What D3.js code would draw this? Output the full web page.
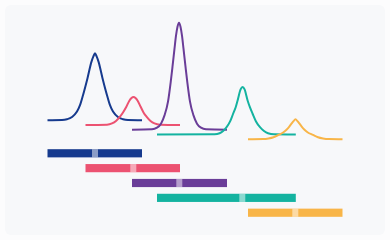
<!DOCTYPE html>
<html lang="en">
<head>
    <meta charset="UTF-8">
    <title>Chromatogram peaks and elution windows</title>
    <script src="https://d3js.org/d3.v7.min.js"></script>
    <style>
        body {
            margin: 0;
            background-color: #fcfcfd;
        }

        svg {
            display: block;
        }

        .trace {
            fill: none;
            stroke-width: 2;
            stroke-linejoin: round;
            stroke-linecap: butt;
        }

        .marker {
            fill: #ffffff;
            fill-opacity: 0.5;
        }
    </style>
</head>
<body>
    <svg width="390" height="240"></svg>

    <script>
        // compounds, in elution order
        const compounds = ['A', 'B', 'C', 'D', 'E'];
        const colors = ['#163a8e', '#ec5271', '#6a3d98', '#14b3a0', '#f8b548'];

        // elution window of each compound (min)
        const windowStart = [0.25, 4.05, 8.7, 11.2, 20.3];
        const windowEnd = [9.7, 13.5, 18.2, 25.08, 29.75];

        // retention time of each peak (min)
        const apex = [5.0, 8.83, 13.43, 19.73, 25.03];

        // vertical offset of each trace (signal units)
        const offsets = [19, 14.25, 9.5, 4.75, 0];

        // traces as [time, signal]
        const traceA = [[0.25, 0], [1.7, 0.2], [2.2, 1], [2.7, 3.2], [3.2, 8.6], [3.5, 15], [3.8, 25], [4.25, 42],
            [4.65, 58.6], [4.85, 64], [5.0, 67], [5.15, 64], [5.35, 58.6], [5.75, 42], [6.2, 25], [6.5, 15],
            [6.8, 8.6], [7.3, 3.2], [7.8, 1], [8.3, 0.2], [9.7, 0]];
        const traceB = [[4.05, 0], [6.2, 0.3], [6.7, 1.5], [7.1, 4], [7.5, 8.3], [7.8, 12.5], [8.15, 18.5],
            [8.45, 24.5], [8.65, 27], [8.85, 28], [9.05, 27], [9.25, 24.5], [9.55, 18.5], [9.85, 12.5],
            [10.15, 8.3], [10.55, 4], [10.95, 1.5], [11.5, 0.3], [13.5, 0]];
        const traceC = [[8.7, 0], [10.7, 0.4], [11.2, 2], [11.6, 6], [11.95, 14.3], [12.3, 28], [12.57, 47.6],
            [12.75, 63], [12.95, 81], [13.1, 94], [13.25, 103], [13.4, 107], [13.55, 103], [13.7, 94],
            [13.85, 81], [14.05, 63], [14.23, 47.6], [14.5, 28], [14.85, 14.3], [15.2, 6], [15.6, 2],
            [16.1, 0.4], [18.2, 0]];
        const traceD = [[11.2, 0], [16.96, 0.2], [17.46, 1.2], [17.81, 3.5], [18.16, 7.3], [18.51, 13],
            [18.81, 20.7], [19.06, 27], [19.26, 34], [19.56, 45], [19.76, 47.5], [19.96, 45], [20.26, 34],
            [20.5, 27], [20.76, 20.7], [21.1, 13], [21.5, 7.3], [21.9, 3.5], [22.3, 1.2], [22.9, 0.2],
            [25.08, 0]];
        const traceE = [[20.3, 0], [21.85, 0.2], [22.35, 0.8], [22.85, 2], [23.35, 4.3], [23.85, 7],
            [24.15, 9.5], [24.43, 12.6], [24.65, 15.5], [24.85, 18], [25.05, 20], [25.25, 18], [25.45, 15.5],
            [25.67, 12.6], [25.95, 9.5], [26.25, 7], [26.8, 4.3], [27.3, 2], [27.8, 0.8], [28.4, 0.2],
            [29.75, 0]];
        const traces = [traceA, traceB, traceC, traceD, traceE];

        const svg = d3.select('svg');
        const width = +svg.attr('width');
        const height = +svg.attr('height');

        // background card
        svg.append('rect')
            .attr('x', 5)
            .attr('y', 5)
            .attr('width', width - 10)
            .attr('height', height - 10)
            .attr('rx', 6)
            .attr('fill', '#f7f8fa');

        const x = d3.scaleLinear()
            .domain([0, 30])
            .range([45, 345]);

        const y = d3.scaleLinear()
            .domain([0, 120])
            .range([139.2, 19.2]);

        const band = d3.scaleBand()
            .domain(compounds)
            .range([149.2, 216.8])
            .paddingInner(0.45)
            .paddingOuter(0);

        const line = d3.line()
            .x(d => x(d[0]))
            .y(d => y(d[1]))
            .curve(d3.curveMonotoneX);

        // peaks
        svg.append('g')
            .selectAll('path')
            .data(traces)
            .enter().append('path')
            .attr('class', 'trace')
            .attr('stroke', (d, i) => colors[i])
            .attr('d', (d, i) => line(d.map(p => [p[0], p[1] + offsets[i]])));

        // elution windows
        const rows = svg.append('g')
            .selectAll('g')
            .data(compounds)
            .enter().append('g');

        rows.append('rect')
            .attr('x', (d, i) => x(windowStart[i]))
            .attr('y', d => band(d))
            .attr('width', (d, i) => x(windowEnd[i]) - x(windowStart[i]))
            .attr('height', band.bandwidth())
            .attr('fill', (d, i) => colors[i]);

        // apex markers
        rows.append('rect')
            .attr('class', 'marker')
            .attr('x', (d, i) => x(apex[i] - 0.3))
            .attr('y', d => band(d))
            .attr('width', x(0.6) - x(0))
            .attr('height', band.bandwidth());
    </script>
</body>
</html>
